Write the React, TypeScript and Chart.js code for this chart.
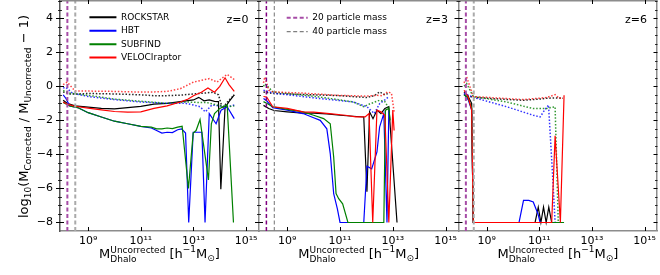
import React, { useEffect, useRef } from 'react';
import { Chart, registerables } from 'chart.js';

Chart.register(...registerables);

type Pt = [number, number];

const FONT = "'DejaVu Sans', 'Liberation Sans', sans-serif";

// ---------- text / ticks ----------
const codes = ['ROCKSTAR', 'HBT', 'SUBFIND', 'VELOCIraptor'];
const redshifts = ['z=0', 'z=3', 'z=6'];
const xTickExps = [9, 11, 13, 15];
const xTickLabels = ['10⁹', '10¹¹', '10¹³', '10¹⁵'];
const yTickValues = [-8, -6, -4, -2, 0, 2, 4];
const logMassRange = [7.93, 15.49];
const yRange = [-8.5, 5.07];
const limitLogMasses = [8.21, 8.51];
const limitLabels = ['20 particle mass', '40 particle mass'];

// ---------- z = 0 (log10 M, value) ----------
const z0Rockstar: Pt[] = [[8.05,-0.82],[8.2,-1.0],[8.5,-1.15],[9.0,-1.22],[9.5,-1.3],[10.0,-1.32],[10.5,-1.25],[11.0,-1.18],[11.5,-1.05],[12.0,-1.0],[12.5,-0.9],[13.0,-0.8],[13.2,-0.65],[13.4,-0.85],[13.6,-0.8],[13.8,-0.88],[13.95,-0.9],[14.04,-6.05],[14.2,-1.25],[14.35,-0.9],[14.55,-0.5]];
const z0Hbt: Pt[] = [[8.05,-0.5],[8.15,-0.7],[8.3,-1.15],[8.6,-1.25],[9.0,-1.55],[9.5,-1.8],[10.0,-2.05],[10.5,-2.2],[11.0,-2.35],[11.4,-2.45],[11.6,-2.6],[11.8,-2.75],[12.0,-2.7],[12.2,-2.72],[12.4,-2.55],[12.55,-2.5],[12.7,-2.75],[12.82,-8.0],[12.99,-2.7],[13.32,-2.7],[13.44,-8.0],[13.6,-1.6],[13.86,-2.2],[14.05,-1.4],[14.28,-1.2],[14.55,-1.9]];
const z0Subfind: Pt[] = [[8.05,-0.95],[8.3,-1.15],[8.6,-1.25],[9.0,-1.55],[9.5,-1.8],[10.0,-2.05],[10.5,-2.2],[11.0,-2.35],[11.4,-2.4],[11.6,-2.5],[11.8,-2.5],[12.0,-2.45],[12.2,-2.48],[12.4,-2.4],[12.57,-2.35],[12.81,-6.0],[12.99,-2.75],[13.1,-2.6],[13.25,-1.95],[13.57,-5.5],[13.68,-2.2],[13.8,-1.6],[14.0,-1.3],[14.28,-1.1],[14.52,-8.0]];
const z0Velo: Pt[] = [[8.05,-0.92],[8.2,-1.05],[8.5,-1.17],[9.0,-1.28],[9.5,-1.38],[10.0,-1.48],[10.5,-1.52],[11.0,-1.5],[11.5,-1.3],[12.0,-1.15],[12.5,-0.92],[12.8,-0.75],[13.0,-0.55],[13.3,-0.35],[13.55,-0.1],[13.8,-0.35],[14.0,0.0],[14.2,0.5],[14.35,0.1],[14.55,-0.3]];
const z0RockstarDot: Pt[] = [[8.05,-0.33],[8.3,-0.45],[8.6,-0.45],[9.0,-0.42],[10.0,-0.45],[11.0,-0.5],[11.5,-0.55],[12.0,-0.55],[12.5,-0.52],[13.0,-0.45],[13.4,-0.4],[13.75,-0.35],[13.95,-0.5],[14.1,-1.3],[14.3,-0.9],[14.55,-0.5]];
const z0HbtDot: Pt[] = [[8.05,-0.1],[8.15,-0.06],[8.4,-0.4],[9.0,-0.6],[10.0,-0.78],[11.0,-0.92],[12.0,-1.0],[12.7,-1.0],[13.0,-1.1],[13.25,-1.2],[13.45,-1.5],[13.7,-1.1],[14.0,-1.15],[14.3,-1.2],[14.55,-1.1]];
const z0SubfindDot: Pt[] = [[8.05,-0.25],[8.3,-0.4],[9.0,-0.53],[10.0,-0.75],[11.0,-0.88],[12.0,-1.0],[12.76,-0.92],[13.2,-0.95],[13.5,-0.95],[13.9,-1.1],[14.28,-1.2],[14.55,-1.15]];
const z0VeloDot: Pt[] = [[8.05,0.1],[8.2,0.25],[8.5,-0.27],[9.0,-0.28],[10.0,-0.3],[10.7,-0.33],[11.5,-0.33],[12.0,-0.3],[12.5,-0.14],[13.0,0.25],[13.3,0.35],[13.6,0.45],[13.9,0.25],[14.1,0.5],[14.28,0.7],[14.55,0.4]];

// ---------- z = 3 ----------
const z3Rockstar: Pt[] = [[8.1,-1.12],[8.3,-1.3],[8.5,-1.42],[9.0,-1.5],[9.6,-1.58],[10.0,-1.58],[10.5,-1.62],[11.0,-1.7],[11.5,-1.76],[11.9,-1.8],[12.02,-6.2],[12.12,-1.5],[12.25,-1.9],[12.4,-1.4],[12.55,-1.6],[12.7,-1.3],[12.85,-1.2],[13.16,-8.0]];
const z3Hbt: Pt[] = [[8.1,-0.72],[8.22,-0.85],[8.45,-1.25],[9.0,-1.4],[9.6,-1.6],[10.0,-1.85],[10.25,-2.0],[10.5,-2.5],[10.63,-3.95],[10.76,-6.3],[10.9,-7.2],[11.0,-8.0],[11.9,-8.0],[12.02,-4.7],[12.2,-4.85],[12.4,-3.85],[12.5,-2.4],[12.66,-1.6],[12.78,-8.0],[12.85,-1.4]];
const z3Subfind: Pt[] = [[8.1,-0.9],[8.22,-1.0],[8.45,-1.2],[9.0,-1.35],[9.6,-1.5],[10.0,-1.7],[10.38,-1.9],[10.63,-2.2],[10.76,-4.15],[10.85,-6.3],[10.95,-6.6],[11.1,-6.9],[11.3,-8.0],[12.66,-8.0],[12.72,-1.4],[12.85,-1.3],[12.9,-2.0]];
const z3Velo: Pt[] = [[8.1,-0.6],[8.22,-0.63],[8.45,-1.2],[9.0,-1.3],[9.6,-1.5],[10.0,-1.52],[10.6,-1.6],[11.2,-1.7],[11.6,-1.8],[11.95,-1.8],[12.1,-1.6],[12.24,-8.0],[12.4,-1.4],[12.55,-1.5],[12.7,-1.7],[12.85,-8.0],[13.0,-1.4],[13.05,-2.6]];
const z3RockstarDot: Pt[] = [[8.1,-0.33],[8.45,-0.42],[9.0,-0.45],[10.0,-0.5],[11.0,-0.55],[12.0,-0.66],[12.3,-0.55],[12.5,-0.33],[12.7,-0.5],[12.85,-0.4]];
const z3HbtDot: Pt[] = [[8.1,-0.23],[8.47,-0.4],[10.25,-0.72],[11.5,-0.92],[12.02,-1.2],[12.3,-1.6],[12.5,-1.02],[12.7,-0.8],[12.85,-0.6]];
const z3SubfindDot: Pt[] = [[8.1,0.0],[8.15,0.15],[8.47,-0.33],[10.25,-0.63],[11.5,-0.92],[11.9,-1.2],[12.1,-1.05],[12.5,-0.82],[12.7,-0.9],[12.85,-1.3]];
const z3VeloDot: Pt[] = [[8.1,0.2],[8.15,0.55],[8.3,-0.23],[8.47,-0.33],[9.6,-0.4],[10.9,-0.53],[12.0,-0.58],[12.4,-0.53],[12.6,-0.55],[12.8,-0.33],[12.95,-0.4],[13.05,-1.5]];

// ---------- z = 6 ----------
const z6Rockstar: Pt[] = [[8.14,-0.33],[8.3,-0.6],[8.43,-1.0],[8.49,-8.0],[10.84,-8.0],[10.96,-7.1],[11.06,-8.0],[11.16,-7.1],[11.26,-8.0],[11.36,-7.1],[11.47,-8.0]];
const z6Hbt: Pt[] = [[8.14,-0.45],[8.3,-0.8],[8.43,-1.4],[8.49,-8.0],[10.23,-8.0],[10.4,-6.7],[10.6,-6.7],[10.77,-6.8],[10.95,-7.5],[11.03,-8.0]];
const z6Subfind: Pt[] = [[8.14,-0.5],[8.3,-0.7],[8.43,-1.3],[8.49,-8.0],[11.94,-8.0]];
const z6Velo: Pt[] = [[8.14,-0.23],[8.3,-0.63],[8.43,-1.4],[8.49,-8.0],[11.47,-8.0],[11.6,-2.9],[11.8,-8.0],[11.94,-0.53]];
const z6RockstarDot: Pt[] = [[8.14,-0.5],[8.5,-0.65],[9.5,-0.75],[10.4,-0.82],[11.0,-0.75],[11.3,-0.7],[11.6,-0.68],[11.9,-0.7]];
const z6HbtDot: Pt[] = [[8.14,-0.4],[8.49,-0.65],[9.76,-1.2],[10.77,-1.7],[11.03,-1.8],[11.2,-1.4],[11.35,-1.1],[11.5,-5.1],[11.6,-8.0]];
const z6SubfindDot: Pt[] = [[8.14,0.0],[8.24,0.16],[8.49,-0.6],[9.76,-0.92],[10.77,-1.31],[11.28,-1.3],[11.6,-1.2],[11.72,-8.0]];
const z6VeloDot: Pt[] = [[8.14,0.2],[8.24,0.55],[8.49,-0.6],[9.0,-0.65],[10.4,-0.78],[11.28,-0.66],[11.6,-0.49],[11.75,-0.7],[11.9,-0.7]];

const solidSeries = [
  [z0Rockstar, z0Hbt, z0Subfind, z0Velo],
  [z3Rockstar, z3Hbt, z3Subfind, z3Velo],
  [z6Rockstar, z6Hbt, z6Subfind, z6Velo],
];
const dottedSeries = [
  [z0RockstarDot, z0HbtDot, z0SubfindDot, z0VeloDot],
  [z3RockstarDot, z3HbtDot, z3SubfindDot, z3VeloDot],
  [z6RockstarDot, z6HbtDot, z6SubfindDot, z6VeloDot],
];

// ---------- styles ----------
const codeColors = ['#000000', '#0000ff', '#008000', '#ff0000'];
const dottedColors = ['rgba(0,0,0,0.85)', 'rgba(0,0,255,0.8)', 'rgba(0,128,0,0.8)', 'rgba(255,0,0,0.75)'];
const limitColors = [['#a64ca6', '#aaaaaa'], ['#800080', '#7f7f7f'], ['#a64ca6', '#aaaaaa']];
const limitWidths = [[2, 2], [1.5, 1.1], [2, 2]];
const SPINE = '#8c8c8c';
const leftSpineColors = ['#555555', SPINE, SPINE];

type Part = { t: string; s: number; dy: number; g?: number };
const xTitleParts: Part[] = [
  { t: 'M', s: 13, dy: 0 }, { t: 'Uncorrected', s: 9, dy: -5, g: 1 }, { t: 'Dhalo', s: 9, dy: 3.5, g: 1 },
  { t: ' [h', s: 13, dy: 0 }, { t: '−1', s: 9, dy: -6 }, { t: 'M', s: 13, dy: 0 }, { t: '⊙', s: 9, dy: 3 }, { t: ']', s: 13, dy: 0 },
];
const yTitleParts: Part[] = [
  { t: 'log', s: 13, dy: 0 }, { t: '10', s: 9, dy: 3 }, { t: '(M', s: 13, dy: 0 }, { t: 'Corrected', s: 9, dy: 3 },
  { t: ' / M', s: 13, dy: 0 }, { t: 'Uncorrected', s: 9, dy: 3 }, { t: ' − 1)', s: 13, dy: 0 },
];

function richWidth(ctx: CanvasRenderingContext2D, parts: Part[]) {
  let w = 0; let i = 0;
  while (i < parts.length) {
    const g = parts[i].g;
    let j = i; let mw = 0;
    do {
      ctx.font = `${parts[j].s}px ${FONT}`;
      mw = Math.max(mw, ctx.measureText(parts[j].t).width);
      j++;
    } while (g !== undefined && j < parts.length && parts[j].g === g);
    w += mw; i = j;
  }
  return w;
}
function drawRich(ctx: CanvasRenderingContext2D, parts: Part[], x: number, y: number) {
  let cx = x; let i = 0;
  while (i < parts.length) {
    const g = parts[i].g;
    let j = i; let mw = 0;
    do {
      ctx.font = `${parts[j].s}px ${FONT}`;
      ctx.fillText(parts[j].t, cx, y + parts[j].dy);
      mw = Math.max(mw, ctx.measureText(parts[j].t).width);
      j++;
    } while (g !== undefined && j < parts.length && parts[j].g === g);
    cx += mw; i = j;
  }
}

const frameTicks = {
  id: 'frameTicks',
  afterDraw(chart: any, _a: any, o: any) {
    const { ctx, chartArea: a, scales } = chart;
    const xs = scales.x; const ys = scales.y;
    const ln = (x1: number, y1: number, x2: number, y2: number) => { ctx.beginPath(); ctx.moveTo(x1, y1); ctx.lineTo(x2, y2); ctx.stroke(); };
    ctx.save();
    ctx.strokeStyle = SPINE; ctx.lineWidth = 1.5;
    ln(a.left, a.top + 0.75, a.right, a.top + 0.75);
    if (o.right) ln(a.right - 0.75, a.top, a.right - 0.75, a.bottom);
    ctx.strokeStyle = '#000'; ctx.lineWidth = 1;
    xs.ticks.forEach((t: any) => {
      const px = Math.round(xs.getPixelForValue(t.value)) + 0.5;
      ln(px, a.bottom, px, a.bottom - 4);
      ln(px, a.top, px, a.top + 4);
    });
    ys.ticks.forEach((t: any) => {
      const py = Math.round(ys.getPixelForValue(t.value)) + 0.5;
      ln(a.left - 4, py, a.left + 4, py);
      if (o.right) ln(a.right, py, a.right - 4, py);
    });
    ctx.lineWidth = 0.8;
    for (let v = -8; v <= ys.max; v += 0.5) {
      if (yTickValues.includes(v)) continue;
      const py = Math.round(ys.getPixelForValue(v)) + 0.5;
      ln(a.left - 2, py, a.left + 2, py);
      if (o.right) ln(a.right, py, a.right - 2.5, py);
    }
    ctx.restore();
  },
};

const panelText = {
  id: 'panelText',
  afterDraw(chart: any, _a: any, o: any) {
    const { ctx, chartArea: a } = chart;
    ctx.save();
    ctx.fillStyle = '#000';
    ctx.textBaseline = 'alphabetic';
    ctx.textAlign = 'right';
    ctx.font = `11px ${FONT}`;
    ctx.fillText(o.z, a.right - 10.5, a.top + 22.5);
    ctx.textAlign = 'left';
    const w = richWidth(ctx, xTitleParts);
    drawRich(ctx, xTitleParts, (a.left + a.right) / 2 - w / 2, a.bottom + 27);
    if (o.yTitle) {
      ctx.translate(a.left - 31.7, (a.top + a.bottom) / 2 + 1);
      ctx.rotate(-Math.PI / 2);
      const wy = richWidth(ctx, yTitleParts);
      drawRich(ctx, yTitleParts, -wy / 2, 0);
    }
    ctx.restore();
  },
};

const legendPos = {
  id: 'legendPos',
  beforeDraw(chart: any, _a: any, o: any) {
    const lg = chart.legend;
    if (!lg || !o || o.dx === undefined) return;
    const a = chart.chartArea;
    lg.left = a.left + o.dx; lg.top = a.top + o.dy;
    lg.right = lg.left + 220; lg.bottom = lg.top + 150;
  },
};

const panelLayout = [
  { padLeft: 0, padRight: 401, yW: 60 },
  { padLeft: 249, padRight: 201.5, yW: 10 },
  { padLeft: 448.5, padRight: 2.5, yW: 10 },
];
const legendSetup = [
  { group: 'code', dx: 25, dy: 8.4, padding: 4.43, w: 27 },
  { group: 'limit', dx: 22.7, dy: 8.2, padding: 5, w: 21 },
  { group: 'none', dx: 0, dy: 0, padding: 5, w: 20 },
];

const toXY = (pts: Pt[]) => pts.map(([m, v]) => ({ x: Math.pow(10, m), y: v }));

function makeConfig(i: number): any {
  const datasets: any[] = [];
  let d = 0;
  codes.forEach((code, k) => {
    datasets.push({
      label: code, data: toXY(solidSeries[i][k]), borderColor: codeColors[k], borderWidth: 1.2,
      pointRadius: 0, fill: false, tension: 0, order: 1000 - d++, group: 'code', legendWidth: 2,
    });
    datasets.push({
      label: code + ' (all)', data: toXY(dottedSeries[i][k]), borderColor: dottedColors[k], borderWidth: 1.5,
      borderDash: [1.5, 1.8], pointRadius: 0, fill: false, tension: 0, order: 1000 - d++, group: 'dotted',
    });
  });
  limitLogMasses.forEach((lm, k) => {
    datasets.push({
      label: limitLabels[k],
      data: toXY([[lm, yRange[0]], [lm, yRange[1]]]),
      borderColor: limitColors[i][k], borderWidth: limitWidths[i][k], borderDash: [4, 2.5],
      pointRadius: 0, fill: false, order: 1000 - d++, group: 'limit',
      legendWidth: k === 0 ? 2 : 1.2, legendColor: k === 0 ? '#a64ca6' : '#7f7f7f',
    });
  });
  const lay = panelLayout[i];
  const leg = legendSetup[i];
  return {
    type: 'line',
    data: { datasets },
    plugins: [frameTicks, panelText, legendPos],
    options: {
      responsive: false,
      animation: false,
      devicePixelRatio: 1,
      events: [],
      layout: { autoPadding: false, padding: { left: lay.padLeft, right: lay.padRight, top: 0, bottom: 0 } },
      scales: {
        x: {
          type: 'logarithmic',
          min: Math.pow(10, logMassRange[0]), max: Math.pow(10, logMassRange[1]),
          border: { display: true, color: SPINE, width: 1.5 },
          grid: { display: false, drawTicks: false },
          ticks: {
            color: '#000', font: { family: FONT, size: 11 }, padding: 4, autoSkip: false, maxRotation: 0,
            callback: (v: number) => {
              const e = Math.round(Math.log10(v));
              const idx = xTickExps.indexOf(e);
              return idx >= 0 ? xTickLabels[idx] : '';
            },
          },
          afterBuildTicks: (s: any) => { s.ticks = xTickExps.map((e) => ({ value: Math.pow(10, e) })); },
          afterFit: (s: any) => { s.height = 44; s.paddingLeft = 0; s.paddingRight = 0; s.paddingTop = 0; s.paddingBottom = 0; },
        },
        y: {
          type: 'linear', min: yRange[0], max: yRange[1],
          border: { display: true, color: leftSpineColors[i], width: 1.5 },
          grid: { display: false, drawTicks: false },
          ticks: {
            display: i === 0, color: '#000', font: { family: FONT, size: 11 }, padding: 7,
            callback: (v: number) => (v < 0 ? '−' + Math.abs(v) : String(v)),
          },
          afterBuildTicks: (s: any) => { s.ticks = yTickValues.map((v) => ({ value: v })); },
          afterFit: (s: any) => { s.width = lay.yW; s.paddingTop = 0; s.paddingBottom = 0; s.paddingLeft = 0; s.paddingRight = 0; },
        },
      },
      plugins: {
        tooltip: { enabled: false },
        legend: {
          display: leg.group !== 'none',
          position: 'chartArea',
          align: 'start',
          labels: {
            usePointStyle: true,
            pointStyle: 'line',
            pointStyleWidth: leg.w,
            padding: leg.padding,
            font: { family: FONT, size: 9 },
            color: '#000',
            generateLabels: (chart: any) =>
              chart.data.datasets
                .map((ds: any, idx: number) => ({
                  text: ds.label,
                  strokeStyle: ds.legendColor || ds.borderColor,
                  fillStyle: 'rgba(0,0,0,0)',
                  lineWidth: ds.legendWidth || ds.borderWidth,
                  lineDash: ds.borderDash || [],
                  pointStyle: 'line',
                  hidden: false,
                  datasetIndex: idx,
                  fontColor: '#000',
                  group: ds.group,
                }))
                .filter((it: any) => it.group === leg.group),
          },
        },
        frameTicks: { right: i === 2 },
        panelText: { z: redshifts[i], yTitle: i === 0 },
        legendPos: { dx: leg.dx, dy: leg.dy },
      },
    },
  };
}

export default function App() {
  const r0 = useRef<HTMLCanvasElement>(null);
  const r1 = useRef<HTMLCanvasElement>(null);
  const r2 = useRef<HTMLCanvasElement>(null);
  useEffect(() => {
    document.body.style.margin = '0';
    const refs = [r0, r1, r2];
    const charts = refs.map((r, i) => new Chart(r.current as HTMLCanvasElement, makeConfig(i)));
    return () => charts.forEach((c) => c.destroy());
  }, []);
  const cs: React.CSSProperties = { position: 'absolute', left: 0, top: 0, width: 660, height: 275 };
  return (
    <div style={{ position: 'relative', width: 660, height: 275, overflow: 'hidden', background: '#fff' }}>
      <canvas ref={r0} width={660} height={275} style={cs} />
      <canvas ref={r1} width={660} height={275} style={cs} />
      <canvas ref={r2} width={660} height={275} style={cs} />
    </div>
  );
}
